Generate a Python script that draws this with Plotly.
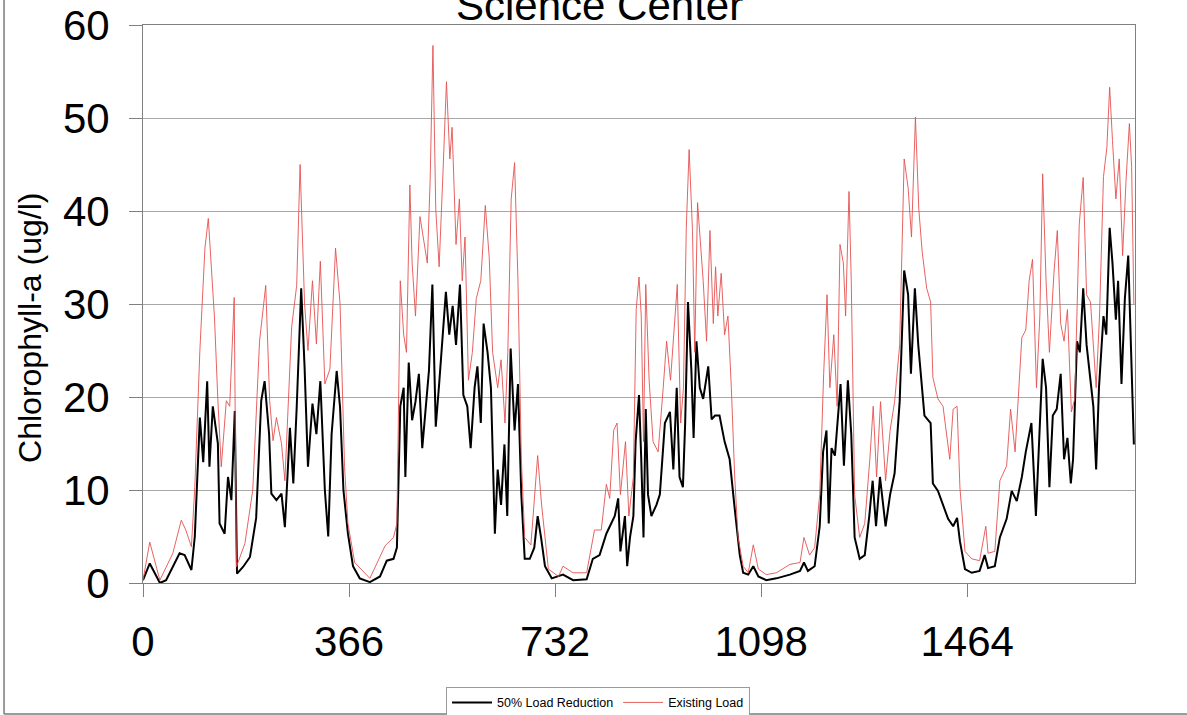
import plotly.graph_objects as go

# ---- data (day index, chlorophyll-a ug/l) ----
reduction_days = [0, 12, 30, 41, 65, 74, 86, 92, 101, 107, 114, 118, 124, 133, 136, 145, 151, 157, 163, 167,
                  178, 190, 201, 210, 216, 224, 228, 237, 246, 252, 261, 267, 273, 281, 287, 293, 301, 308, 315,
                  323, 329, 335, 344, 350, 356, 364, 373, 385, 403, 421, 433, 445, 451, 457, 463, 466, 472, 478,
                  484, 490, 496, 502, 508, 514, 520, 526, 532, 538, 544, 550, 556, 563, 569, 576, 582, 589, 594,
                  600, 605, 612, 618, 625, 630, 636, 642, 647, 653, 660, 666, 672, 678, 687, 695, 701, 707, 714,
                  726, 746, 764, 788, 799, 811, 823, 832, 838, 844, 848, 856, 860, 865, 871, 875, 881, 885, 889,
                  893, 897, 903, 912, 918, 927, 936, 942, 948, 953, 959, 963, 968, 974, 978, 983, 989, 995, 1004,
                  1010, 1016, 1024, 1033, 1042, 1051, 1060, 1066, 1075, 1084, 1093, 1107, 1125, 1149, 1167, 1174,
                  1181, 1193, 1202, 1208, 1214, 1218, 1223, 1229, 1234, 1239, 1245, 1252, 1258, 1264, 1273, 1282,
                  1290, 1296, 1302, 1309, 1319, 1327, 1335, 1344, 1352, 1359, 1364, 1371, 1377, 1383, 1388, 1399,
                  1403, 1412, 1421, 1430, 1439, 1446, 1451, 1460, 1472, 1486, 1495, 1501, 1513, 1522, 1534, 1543,
                  1552, 1561, 1568, 1578, 1586, 1592, 1598, 1604, 1610, 1616, 1623, 1630, 1636, 1642, 1648, 1652,
                  1659, 1664, 1670, 1676, 1682, 1688, 1693, 1698, 1706, 1711, 1717, 1722, 1728, 1732, 1738, 1744,
                  1750, 1754, 1760]
reduction_vals = [0.3, 2.1, 0.0, 0.3, 3.2, 3.0, 1.4, 5.0, 17.8, 13.0, 21.7, 12.5, 19.0, 15.0, 6.4, 5.3, 11.4, 8.9,
                  18.5, 1.0, 1.75, 2.8, 7.0, 19.6, 21.7, 16.0, 9.6, 8.9, 9.6, 6.0, 16.7, 10.7, 18.9, 31.7, 23.2,
                  12.5, 19.3, 16.0, 21.7, 10.0, 5.0, 16.0, 22.8, 18.9, 10.0, 5.3, 1.8, 0.5, 0.1, 0.7, 2.4, 2.6,
                  3.8, 19.0, 21.0, 11.4, 23.7, 17.5, 19.5, 22.5, 14.5, 18.7, 22.9, 32.1, 16.8, 21.4, 26.0, 31.3,
                  26.7, 29.8, 25.6, 32.1, 20.2, 19.0, 14.5, 21.0, 23.3, 17.2, 27.9, 24.8, 21.0, 5.3, 12.2, 8.4,
                  14.9, 7.2, 25.2, 16.4, 21.4, 9.5, 2.6, 2.6, 3.8, 7.2, 4.9, 1.8, 0.5, 0.9, 0.3, 0.4, 2.6, 3.0,
                  5.3, 6.4, 7.2, 9.1, 3.4, 7.2, 1.8, 4.9, 7.2, 15.2, 20.2, 13.3, 4.9, 18.7, 9.5, 7.2, 8.4, 9.5,
                  17.2, 18.4, 12.2, 21.0, 11.4, 10.3, 17.2, 30.2, 22.9, 15.6, 26.0, 21.0, 19.8, 23.3, 17.6, 18.0,
                  18.0, 15.2, 13.3, 8.0, 3.0, 1.1, 0.9, 1.8, 0.7, 0.3, 0.5, 0.9, 1.3, 2.2, 1.3, 1.8, 6.1, 14.1,
                  16.4, 6.4, 14.5, 13.7, 17.9, 21.4, 12.6, 21.8, 16.0, 4.9, 2.6, 3.0, 7.2, 11.0, 6.1, 11.4, 6.1,
                  9.5, 11.8, 19.5, 33.6, 31.0, 22.5, 31.7, 25.6, 21.0, 18.0, 17.2, 10.7, 9.9, 8.4, 6.9, 6.1, 7.0,
                  4.5, 1.5, 1.1, 1.3, 3.0, 1.6, 1.8, 4.9, 6.9, 9.9, 8.8, 11.4, 14.1, 17.2, 7.2, 15.2, 24.1, 21.0,
                  10.3, 18.0, 18.7, 22.5, 13.3, 15.6, 10.7, 13.3, 26.0, 24.8, 31.7, 25.6, 22.5, 19.0, 12.2, 21.0,
                  28.7, 26.7, 38.2, 34.4, 28.3, 32.5, 21.4, 30.6, 35.2, 26.0, 14.9]

existing_days = [0, 12, 30, 53, 68, 76, 86, 92, 101, 110, 116, 121, 127, 133, 139, 148, 154, 162, 166, 181, 195,
                 207, 218, 225, 231, 237, 246, 252, 264, 273, 279, 287, 293, 301, 308, 315, 323, 332, 342, 350,
                 358, 364, 376, 403, 430, 445, 451, 457, 463, 468, 474, 478, 484, 492, 499, 505, 510, 515, 520,
                 526, 533, 539, 545, 549, 556, 562, 567, 572, 578, 585, 592, 600, 608, 615, 621, 630, 636, 643,
                 648, 654, 660, 666, 672, 678, 689, 701, 708, 720, 738, 746, 764, 788, 802, 814, 823, 829, 836,
                 842, 848, 857, 863, 871, 876, 881, 885, 889, 893, 899, 906, 915, 924, 930, 937, 943, 949, 955,
                 960, 965, 970, 976, 980, 985, 991, 995, 1001, 1007, 1013, 1017, 1021, 1027, 1033, 1039, 1045,
                 1051, 1057, 1066, 1075, 1084, 1093, 1107, 1125, 1149, 1167, 1174, 1184, 1193, 1202, 1209, 1215,
                 1220, 1227, 1233, 1238, 1244, 1248, 1254, 1258, 1264, 1273, 1282, 1291, 1297, 1303, 1310, 1319,
                 1327, 1335, 1344, 1352, 1359, 1365, 1372, 1378, 1384, 1392, 1399, 1403, 1412, 1421, 1430, 1433,
                 1439, 1446, 1451, 1460, 1472, 1486, 1497, 1501, 1513, 1522, 1534, 1541, 1549, 1555, 1561, 1568,
                 1574, 1580, 1587, 1593, 1598, 1604, 1610, 1618, 1624, 1630, 1636, 1642, 1649, 1655, 1663, 1670,
                 1676, 1683, 1689, 1693, 1699, 1706, 1712, 1717, 1722, 1728, 1734, 1740, 1746, 1752, 1756, 1760]
existing_vals = [0.3, 4.4, 0.3, 3.2, 6.75, 5.7, 3.9, 10.3, 25.0, 36.0, 39.2, 34.6, 28.5, 19.6, 12.5, 19.6, 19.0,
                 30.7, 1.75, 4.25, 10.0, 26.0, 32.0, 19.6, 15.3, 17.8, 15.0, 11.0, 27.5, 32.0, 45.0, 30.0, 25.0,
                 32.5, 25.7, 34.6, 21.4, 23.0, 36.0, 30.0, 12.5, 6.4, 2.2, 0.5, 4.0, 4.9, 6.4, 32.5, 26.7, 24.8,
                 42.8, 34.4, 28.7, 39.4, 36.4, 34.4, 43.2, 57.8, 40.2, 34.0, 44.4, 53.9, 45.6, 49.0, 36.4, 41.3,
                 32.5, 37.2, 21.8, 24.8, 30.6, 32.5, 40.6, 35.0, 24.8, 21.0, 24.0, 17.2, 24.8, 41.3, 45.2, 32.5,
                 13.3, 4.9, 4.1, 13.7, 8.4, 1.5, 0.7, 1.8, 1.1, 1.1, 5.7, 5.7, 10.6, 9.1, 16.4, 17.2, 9.5, 15.2,
                 7.2, 11.4, 29.4, 32.9, 28.7, 15.2, 32.1, 21.8, 15.2, 14.1, 21.0, 26.0, 21.8, 27.5, 32.1, 17.2,
                 21.0, 38.2, 46.6, 37.9, 24.8, 40.9, 36.4, 32.5, 26.0, 37.9, 27.9, 34.0, 28.7, 33.3, 26.7, 28.7,
                 21.0, 11.4, 4.9, 1.8, 1.1, 4.1, 1.5, 0.9, 1.1, 2.0, 2.2, 4.9, 3.0, 3.8, 9.5, 22.5, 31.0, 21.0,
                 26.7, 19.0, 36.4, 34.4, 28.7, 42.1, 32.5, 9.5, 4.9, 6.4, 13.3, 19.0, 11.4, 19.5, 11.0, 16.4,
                 19.5, 25.6, 45.6, 42.5, 37.2, 50.1, 40.2, 35.6, 31.7, 30.2, 22.1, 19.8, 19.0, 14.9, 13.3, 18.7,
                 19.0, 10.3, 3.4, 2.6, 2.4, 6.1, 3.2, 3.4, 11.0, 12.6, 18.7, 14.1, 19.8, 26.4, 27.2, 32.5, 34.8,
                 21.0, 28.7, 44.0, 32.5, 24.8, 33.3, 37.9, 27.9, 26.0, 29.4, 18.4, 19.8, 38.6, 43.6, 31.0, 30.2,
                 24.8, 21.0, 28.7, 43.7, 46.8, 53.3, 47.6, 41.3, 45.6, 35.2, 43.2, 49.4, 44.8, 30.0]

x_tick_vals = [0, 366, 732, 1098, 1464]
y_tick_vals = [0, 10, 20, 30, 40, 50, 60]

FONT = "Liberation Sans, Arial, sans-serif"

fig = go.Figure()
fig.add_trace(go.Scatter(x=reduction_days, y=reduction_vals, mode="lines",
                         name="50% Load Reduction",
                         line=dict(color="#000000", width=2)))
fig.add_trace(go.Scatter(x=existing_days, y=existing_vals, mode="lines",
                         name="Existing Load",
                         line=dict(color="#e55050", width=0.9)))

# plot area in page pixels: x 143..1135, y 25..583
fig.update_layout(
    width=1187, height=715,
    margin=dict(l=143, r=52, t=25, b=132, autoexpand=False),
    paper_bgcolor="white", plot_bgcolor="white",
    font=dict(family=FONT, color="black"),
    showlegend=True,
    legend=dict(orientation="h", x=0.4587, xanchor="center", y=-0.186, yanchor="top",
                bordercolor="#9a9a9a", borderwidth=1, bgcolor="white",
                font=dict(size=12.5, family=FONT), itemwidth=40,
                tracegroupgap=0),
    xaxis=dict(range=[0, 1762], tickmode="array", tickvals=x_tick_vals,
               ticks="outside", ticklen=13, tickcolor="#808080",
               showline=True, linecolor="#808080", linewidth=1, mirror=True,
               showgrid=False, zeroline=False, automargin=False,
               tickfont=dict(size=42, family=FONT), ticklabelstandoff=9),
    yaxis=dict(range=[0, 60], tickmode="array", tickvals=y_tick_vals,
               ticks="outside", ticklen=13, tickcolor="#808080",
               showline=True, linecolor="#808080", linewidth=1, mirror=True,
               showgrid=True, gridcolor="#a8a8a8", gridwidth=1, zeroline=False,
               automargin=False,
               tickfont=dict(size=42, family=FONT), ticklabelstandoff=11),
    annotations=[
        dict(text="Science Center", xref="paper", yref="paper", x=0.46, y=0.99,
             xanchor="center", yanchor="bottom", showarrow=False,
             font=dict(size=42, family=FONT, color="black")),
        dict(text="Chlorophyll-a (ug/l)", xref="paper", yref="paper", x=-0.114, y=0.457,
             xanchor="center", yanchor="middle", textangle=-90, showarrow=False,
             font=dict(size=32, family=FONT, color="black")),
    ],
    shapes=[
        dict(type="line", xref="paper", yref="paper", x0=-0.1401, x1=-0.1401, y0=-0.2348, y1=1.07,
             line=dict(color="#7a7a7a", width=1.5)),
        dict(type="line", xref="paper", yref="paper", x0=-0.1401, x1=1.07, y0=-0.2348, y1=-0.2348,
             line=dict(color="#7a7a7a", width=1.5)),
    ],
)

fig.write_html("out.html", config={"displayModeBar": False},
               post_script="document.body.style.margin='0';")
